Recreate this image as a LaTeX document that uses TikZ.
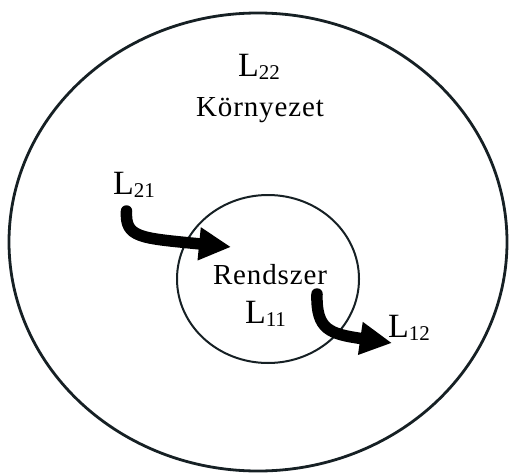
\documentclass[tikz,border=0pt]{standalone}
\usepackage{fontspec}
\setmainfont{Liberation Serif}
\newfontfamily\spacedfont[LetterSpace=3]{Liberation Serif}
\usetikzlibrary{shapes.geometric,arrows.meta}

% flux label: a large L with a lowered numeric index
\newcommand\Lsub[1]{{\fontsize{34}{34}\selectfont L}\raisebox{-3pt}{\fontsize{21}{21}\selectfont #1}}

\definecolor{ringcol}{RGB}{22,32,36}

\tikzset{
  ring/.style={draw=ringcol, ellipse, inner sep=0pt, outer sep=0pt},
  lbl/.style={inner sep=0pt, outer sep=0pt, anchor=base west},
  word/.style={inner sep=0pt, outer sep=0pt, anchor=base,
               font=\spacedfont\fontsize{29}{29}\selectfont},
  flow/.style={line width=11.5pt, line cap=round,
               -{Triangle[length=32pt, width=31pt]}}
}

\begin{document}
\begin{tikzpicture}[x=1pt, y=-1pt]
  \useasboundingbox (0,0) rectangle (510,473);

  % environment and system boundaries
  \node[ring, line width=2.8pt, minimum width=498pt, minimum height=458pt] (env) at (258,242) {};
  \node[ring, line width=2pt, minimum width=182pt, minimum height=168pt] (sys) at (268,279) {};

  % texts
  \node[lbl] (l22) at (238,77) {\Lsub{22}};
  \node[word] (kor) at (260,117) {Környezet};
  \node[word] (rend) at (270,284) {Rendszer};
  \node[lbl] (l11) at (245,323) {\Lsub{11}};
  \node[lbl] (l21) at (113,194) {\Lsub{21}};
  \node[lbl] (l12) at (388,337) {\Lsub{12}};

  % flows across the system boundary
  \coordinate (inS)  at (126.5,211);
  \coordinate (inE)  at (231,247);
  \coordinate (outS) at (317,294);
  \coordinate (outE) at (392,343);

  \draw[flow] (inS) .. controls (125,238) and (140,238) .. (inE);
  \draw[flow] (outS) .. controls (316,330) and (330,334) .. (outE);
\end{tikzpicture}
\end{document}
